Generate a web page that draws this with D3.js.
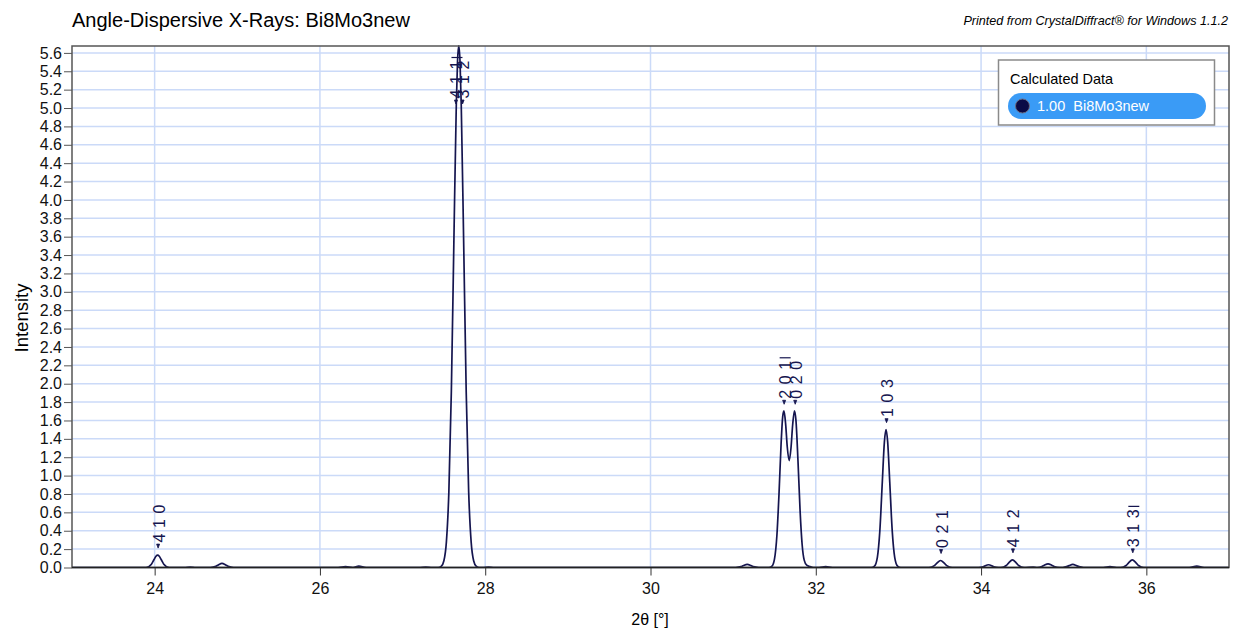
<!DOCTYPE html>
<html>
<head>
<meta charset="utf-8">
<script src="https://cdn.jsdelivr.net/npm/d3@7/dist/d3.min.js"></script>
<style>
  body { margin: 0; background: #fff; }
  svg text { font-family: "Liberation Sans", Arial, sans-serif; }
</style>
</head>
<body>
<script>
// calculated profile (2theta in degrees, intensity)
var profileTheta = [
  23.00, 23.896, 23.961, 23.991, 24.016, 24.036, 24.056, 24.081, 24.111, 24.176, // 4 1 0
  24.36, 24.43, 24.50,
  24.675, 24.74, 24.77, 24.815, 24.86, 24.89, 24.955,
  26.22, 26.31, 26.40, 26.47, 26.56,
  27.20, 27.28, 27.36,
  27.43, 27.47, 27.50, 27.53, 27.56, 27.59, 27.62, 27.65, 27.665, 27.68,   // main peak
  27.695, 27.71, 27.74, 27.77, 27.80, 27.83, 27.86, 27.89, 27.93,
  27.97, 28.04, 28.11,
  31.03, 31.095, 31.125, 31.17, 31.215, 31.245, 31.31,
  31.43, 31.47, 31.50, 31.53, 31.555, 31.58, 31.60, 31.615, 31.635, 31.655, // doublet
  31.678, 31.70, 31.72, 31.742, 31.76, 31.785, 31.81, 31.835, 31.86, 31.89, 31.93, 31.97,
  32.04, 32.12, 32.20,
  32.67, 32.71, 32.745, 32.775, 32.805, 32.83, 32.85, 32.87, 32.895, 32.925, 32.955, 32.99, 33.03, // 1 0 3
  33.37, 33.435, 33.465, 33.51, 33.555, 33.585, 33.65,
  33.97, 34.025, 34.09, 34.155, 34.21,
  34.24, 34.305, 34.335, 34.38, 34.425, 34.455, 34.52,
  34.63,
  34.68, 34.735, 34.765, 34.81, 34.855, 34.885, 34.95,
  34.99, 35.035, 35.065, 35.11, 35.155, 35.185, 35.24,
  35.48, 35.56, 35.64,
  35.69, 35.755, 35.785, 35.83, 35.875, 35.905, 35.97,
  36.52, 36.61, 36.70, 37.00
];
var profileIntensity = [
  0, 0, 0.036, 0.084, 0.123, 0.135, 0.123, 0.084, 0.036, 0,
  0, 0.005, 0,
  0, 0.012, 0.028, 0.045, 0.028, 0.012, 0,
  0, 0.010, 0, 0.015, 0,
  0, 0.005, 0,
  0, 0.015, 0.073, 0.276, 0.82, 1.91, 3.50, 5.03, 5.51, 5.68,
  5.51, 5.03, 3.50, 1.91, 0.82, 0.276, 0.073, 0.015, 0,
  0, 0.005, 0,
  0, 0.009, 0.022, 0.035, 0.022, 0.009, 0,
  0, 0.015, 0.091, 0.357, 0.801, 1.342, 1.645, 1.704, 1.563, 1.311,
  1.163, 1.300, 1.551, 1.706, 1.601, 1.152, 0.619, 0.248, 0.080, 0.025, 0.010, 0,
  0, 0.010, 0,
  0, 0.015, 0.111, 0.398, 0.93, 1.365, 1.50, 1.365, 0.93, 0.398, 0.111, 0.015, 0,
  0, 0.020, 0.047, 0.076, 0.047, 0.020, 0,
  0, 0.008, 0.030, 0.008, 0,
  0, 0.022, 0.051, 0.083, 0.051, 0.022, 0,
  0.005,
  0, 0.011, 0.025, 0.040, 0.025, 0.011, 0,
  0, 0.009, 0.020, 0.033, 0.020, 0.009, 0,
  0, 0.010, 0,
  0, 0.022, 0.051, 0.083, 0.051, 0.022, 0,
  0, 0.015, 0, 0
];

// labelled reflections
var reflTheta  = [24.036, 27.64, 27.72, 31.611, 31.745, 32.85, 33.51, 34.38, 35.83];
var reflHeight = [0.135, 5.68, 5.68, 1.70, 1.70, 1.50, 0.076, 0.083, 0.083];
var reflHkl    = ["4 1 0", "4 1 -1", "3 1 2", "2 0 -1", "0 2 0", "1 0 3", "0 2 1", "4 1 2", "3 1 -3"];

var xTicks = [24, 26, 28, 30, 32, 34, 36];
var yTicks = d3.range(0, 28.5).map(function(i) { return i * 0.2; });

var width = 1233, height = 630;
var plotL = 72, plotR = 1229, plotT = 46, plotB = 567.5;
var lineColor = "#15154f";

var svg = d3.select("body").append("svg")
  .attr("width", width)
  .attr("height", height);

var x = d3.scaleLinear().domain([23, 37]).range([plotL, plotR]);
var y = d3.scaleLinear().domain([0, 5.675]).range([plotB, plotT]);

// titles
svg.append("text")
  .attr("x", 72).attr("y", 27)
  .style("font-size", "20px")
  .text("Angle-Dispersive X-Rays: Bi8Mo3new");
svg.append("text")
  .attr("x", 1228).attr("y", 25)
  .attr("text-anchor", "end")
  .style("font-size", "12.6px")
  .style("font-style", "italic")
  .text("Printed from CrystalDiffract\u00ae for Windows 1.1.2");

// grid
svg.append("g").selectAll("line").data(yTicks).enter().append("line")
  .attr("x1", plotL).attr("x2", plotR)
  .attr("y1", function(d) { return y(d); })
  .attr("y2", function(d) { return y(d); })
  .attr("stroke", "#cbdaf8").attr("stroke-width", 1.5);
svg.append("g").selectAll("line").data(xTicks).enter().append("line")
  .attr("y1", plotT).attr("y2", plotB)
  .attr("x1", function(d) { return x(d); })
  .attr("x2", function(d) { return x(d); })
  .attr("stroke", "#cbdaf8").attr("stroke-width", 1.5);

// axes
var yAxis = svg.append("g")
  .attr("transform", "translate(" + plotL + ",0)")
  .call(d3.axisLeft(y).tickValues(yTicks).tickFormat(d3.format(".1f")).tickSize(8).tickPadding(2));
yAxis.select(".domain").remove();
yAxis.selectAll("line").attr("stroke", "#555");
yAxis.selectAll("text").style("font-size", "16px").attr("fill", "#111");

var xAxis = svg.append("g")
  .attr("transform", "translate(0," + plotB + ")")
  .call(d3.axisBottom(x).tickValues(xTicks).tickFormat(d3.format("d")).tickSize(8).tickPadding(7));
xAxis.select(".domain").remove();
xAxis.selectAll("line").attr("stroke", "#333");
xAxis.selectAll("text").style("font-size", "16px").attr("fill", "#111");

svg.append("text")
  .attr("x", 650).attr("y", 625)
  .attr("text-anchor", "middle")
  .style("font-size", "16px")
  .text("2\u03b8 [\u00b0]");
svg.append("text")
  .attr("transform", "translate(28,318) rotate(-90)")
  .attr("text-anchor", "middle")
  .style("font-size", "18.5px")
  .text("Intensity");

// profile line
svg.append("clipPath").attr("id", "plotClip")
  .append("rect").attr("x", plotL).attr("y", plotT - 1)
  .attr("width", plotR - plotL).attr("height", plotB - plotT + 1);

var pts = profileTheta.map(function(t, i) { return [t, profileIntensity[i]]; });
var line = d3.line()
  .x(function(d) { return x(d[0]); })
  .y(function(d) { return y(d[1]); })
  .curve(d3.curveMonotoneX);

svg.append("path")
  .datum(pts)
  .attr("clip-path", "url(#plotClip)")
  .attr("d", line)
  .attr("fill", "none")
  .attr("stroke", lineColor)
  .attr("stroke-width", 1.7);

// reflection labels (rotated, reading upwards)
var labels = svg.append("g");
reflTheta.forEach(function(t, i) {
  var px = x(t);
  var py = Math.max(y(reflHeight[i]), 111);
  labels.append("path")
    .attr("d", "M" + (px - 1) + "," + (py - 11) + "L" + (px + 2) + "," + (py - 11) + "L" + (px + 0.5) + "," + (py - 7) + "Z")
    .attr("fill", lineColor)
    .attr("stroke", lineColor).attr("stroke-width", 0.8);
  var parts = reflHkl[i].split(" ");
  parts.forEach(function(p, j) {
    var bar = p.charAt(0) == "-";
    var ch = bar ? p.substring(1) : p;
    var cy = py - 17 - j * 14.5;
    labels.append("text")
      .attr("transform", "translate(" + (px + 1.5) + "," + cy + ") rotate(-90)")
      .attr("text-anchor", "middle")
      .attr("dominant-baseline", "central")
      .style("font-size", "16px")
      .attr("fill", lineColor)
      .text(ch);
    if (bar) {
      labels.append("line")
        .attr("x1", px - 4).attr("x2", px + 7)
        .attr("y1", cy - 7.5).attr("y2", cy - 7.5)
        .attr("stroke", lineColor).attr("stroke-width", 1.2);
    }
  });
});

// frame
svg.append("rect")
  .attr("x", plotL).attr("y", plotT)
  .attr("width", plotR - plotL).attr("height", plotB - plotT)
  .attr("fill", "none").attr("stroke", "#555").attr("stroke-width", 1.5);
svg.append("line")
  .attr("x1", plotL).attr("x2", plotR)
  .attr("y1", plotB).attr("y2", plotB)
  .attr("stroke", "#222").attr("stroke-width", 1.5);

// legend
var lg = svg.append("g");
lg.append("rect")
  .attr("x", 998.5).attr("y", 60).attr("width", 216).attr("height", 65)
  .attr("fill", "#fff").attr("stroke", "#8a8a8a").attr("stroke-width", 1.5);
lg.append("text")
  .attr("x", 1010).attr("y", 83.5)
  .style("font-size", "14.5px")
  .text("Calculated Data");
lg.append("rect")
  .attr("x", 1008).attr("y", 93).attr("width", 198).attr("height", 26)
  .attr("rx", 13).attr("ry", 13)
  .attr("fill", "#3a9bf6");
lg.append("circle")
  .attr("cx", 1022.5).attr("cy", 106).attr("r", 7)
  .attr("fill", "#0a0a46").attr("stroke", "#6a6a80").attr("stroke-width", 1);
lg.append("text")
  .attr("x", 1037).attr("y", 111)
  .style("font-size", "14.5px")
  .style("white-space", "pre")
  .attr("fill", "#fff")
  .text("1.00  Bi8Mo3new");
</script>
</body>
</html>
